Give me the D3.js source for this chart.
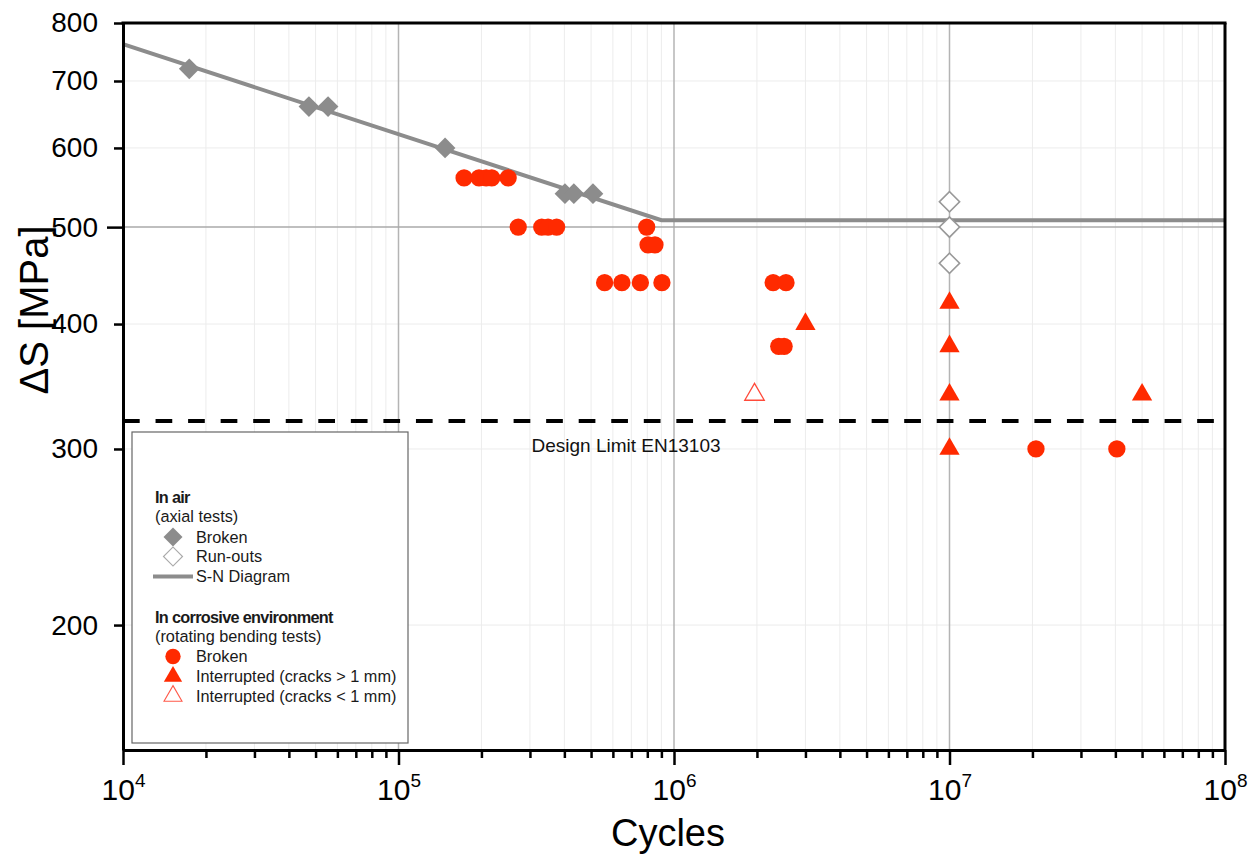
<!DOCTYPE html>
<html>
<head>
<meta charset="utf-8">
<script src="https://cdn.jsdelivr.net/npm/d3@7"></script>
<style>
  html, body { margin: 0; padding: 0; background: #fff; }
  svg { display: block; font-family: "Liberation Sans", Arial, sans-serif; }
</style>
</head>
<body>
<svg id="chart" width="1248" height="858"></svg>
<script>
// S-N fatigue data: stress range [MPa] vs number of cycles

// In air (axial tests)
const airBrokenCycles = [17400, 47300, 55500, 147600, 402000, 433000, 508000];
const airBrokenStress = [720, 660, 660, 600, 540, 540, 540];
const runoutCycles = [1e7, 1e7, 1e7];
const runoutStress = [530, 500, 460];
const snCycles = [1e4, 9e5, 1e8];
const snStress = [762, 508, 508];

// In corrosive environment (rotating bending tests)
const corrBrokenCycles = [173000, 196000, 208000, 218000, 250000,
  272000, 331000, 349000, 375000, 796000,
  805000, 853000,
  560000, 647000, 755000, 904000, 2290000, 2550000,
  2400000, 2510000,
  20600000, 40500000];
const corrBrokenStress = [560, 560, 560, 560, 560,
  500, 500, 500, 500, 500,
  480, 480,
  440, 440, 440, 440, 440, 440,
  380, 380,
  300, 300];
const crackedCycles = [3e6, 1e7, 1e7, 1e7, 1e7, 5e7];
const crackedStress = [400, 420, 380, 340, 300, 340];
const smallCrackCycles = [1.96e6];
const smallCrackStress = [340];

const designLimit = 320;
const designLabel = "Design Limit EN13103";

const xDecades = [1e4, 1e5, 1e6, 1e7, 1e8];
const yTicks = [200, 300, 400, 500, 600, 700, 800];

const RED = "#ff2a00";
const GRAY = "#8c8c8c";

const svg = d3.select("#chart");
const L = 123, R = 1225, T = 23, B = 750;

const x = d3.scaleLog().domain([1e4, 1e8]).range([L, R]);
const y = d3.scaleLog().domain([150, 800]).range([B, T]);

const minorX = [];
for (let d = 1e4; d < 1e8; d *= 10) for (let k = 2; k <= 9; k++) minorX.push(d * k);

// grid
const grid = svg.append("g");
grid.selectAll(".vminor").data(minorX).join("line")
  .attr("x1", d => x(d)).attr("x2", d => x(d)).attr("y1", T).attr("y2", B)
  .attr("stroke", "#ececec").attr("stroke-width", 1);
grid.selectAll(".hminor").data(yTicks.filter(v => v !== 500 && v !== 800)).join("line")
  .attr("x1", L).attr("x2", R).attr("y1", d => y(d)).attr("y2", d => y(d))
  .attr("stroke", "#ececec").attr("stroke-width", 1);
grid.selectAll(".vmajor").data(xDecades.slice(1, 4)).join("line")
  .attr("x1", d => x(d)).attr("x2", d => x(d)).attr("y1", T).attr("y2", B)
  .attr("stroke", "#b4b4b4").attr("stroke-width", 1.5);
grid.append("line")
  .attr("x1", L).attr("x2", R).attr("y1", y(500)).attr("y2", y(500))
  .attr("stroke", "#aaaaaa").attr("stroke-width", 1.5);

// S-N curve
const snLine = d3.line().x(d => x(d[0])).y(d => y(d[1]));
svg.append("path")
  .datum(d3.zip(snCycles, snStress))
  .attr("d", snLine)
  .attr("fill", "none").attr("stroke", GRAY).attr("stroke-width", 4);

// design limit
svg.append("line")
  .attr("x1", L).attr("x2", R).attr("y1", y(designLimit)).attr("y2", y(designLimit))
  .attr("stroke", "#000").attr("stroke-width", 4).attr("stroke-dasharray", "16.7,15.85");
svg.append("text")
  .attr("x", 626).attr("y", y(designLimit) + 31)
  .attr("text-anchor", "middle").attr("font-size", 19).attr("fill", "#111")
  .text(designLabel);

// markers
const sq = d3.symbol().type(d3.symbolSquare);
const tri = d3.symbol().type(d3.symbolTriangle);
const circ = d3.symbol().type(d3.symbolCircle);

const marks = svg.append("g");
marks.selectAll(".runout").data(d3.zip(runoutCycles, runoutStress)).join("path")
  .attr("d", sq.size(205)())
  .attr("transform", d => `translate(${x(d[0])},${y(d[1])}) rotate(45)`)
  .attr("fill", "#fff").attr("stroke", "#999").attr("stroke-width", 1.6);
marks.selectAll(".airb").data(d3.zip(airBrokenCycles, airBrokenStress)).join("path")
  .attr("d", sq.size(215)())
  .attr("transform", d => `translate(${x(d[0])},${y(d[1])}) rotate(45)`)
  .attr("fill", GRAY);
marks.selectAll(".corrb").data(d3.zip(corrBrokenCycles, corrBrokenStress)).join("path")
  .attr("d", circ.size(235)())
  .attr("transform", d => `translate(${x(d[0])},${y(d[1])})`)
  .attr("fill", RED);
marks.selectAll(".crack").data(d3.zip(crackedCycles, crackedStress)).join("path")
  .attr("d", tri.size(178)())
  .attr("transform", d => `translate(${x(d[0])},${y(d[1])})`)
  .attr("fill", RED);
marks.selectAll(".small").data(d3.zip(smallCrackCycles, smallCrackStress)).join("path")
  .attr("d", tri.size(165)())
  .attr("transform", d => `translate(${x(d[0])},${y(d[1])})`)
  .attr("fill", "#fff").attr("stroke", "#ff4a3a").attr("stroke-width", 1.3);

// legend
const lg = svg.append("g");
lg.append("rect").attr("x", 132).attr("y", 432).attr("width", 276).attr("height", 311)
  .attr("fill", "#fff").attr("stroke", "#666").attr("stroke-width", 1.2);
const fs = 16.3;
const tx = 155, lx = 196, mx = 173;
const legendText = [
  { t: "In air", y: 503, bold: true, x: tx },
  { t: "(axial tests)", y: 522, x: tx },
  { t: "Broken", y: 542.5, x: lx },
  { t: "Run-outs", y: 562, x: lx },
  { t: "S-N Diagram", y: 581.5, x: lx },
  { t: "In corrosive environment", y: 622.5, bold: true, x: tx },
  { t: "(rotating bending tests)", y: 642, x: tx },
  { t: "Broken", y: 662, x: lx },
  { t: "Interrupted (cracks > 1 mm)", y: 682, x: lx },
  { t: "Interrupted (cracks < 1 mm)", y: 701.5, x: lx }
];
lg.selectAll("text").data(legendText).join("text")
  .attr("x", d => d.x).attr("y", d => d.y)
  .attr("font-size", fs).attr("fill", "#1a1a1a")
  .attr("font-weight", d => d.bold ? "bold" : "normal")
  .attr("letter-spacing", d => d.bold ? -0.7 : 0)
  .text(d => d.t);
lg.append("path").attr("d", sq.size(180)())
  .attr("transform", `translate(${mx},537) rotate(45)`).attr("fill", GRAY);
lg.append("path").attr("d", sq.size(180)())
  .attr("transform", `translate(${mx},556.5) rotate(45)`)
  .attr("fill", "#fff").attr("stroke", "#aaa").attr("stroke-width", 1.2);
lg.append("line").attr("x1", 153).attr("x2", 193).attr("y1", 576.5).attr("y2", 576.5)
  .attr("stroke", GRAY).attr("stroke-width", 4);
lg.append("path").attr("d", circ.size(185)())
  .attr("transform", `translate(${mx},656.5)`).attr("fill", RED);
lg.append("path").attr("d", tri.size(145)())
  .attr("transform", `translate(${mx},676.5)`).attr("fill", RED);
lg.append("path").attr("d", tri.size(140)())
  .attr("transform", `translate(${mx},696)`)
  .attr("fill", "#fff").attr("stroke", "#ff5a4a").attr("stroke-width", 1.1);

// axes
const xMajorAxis = d3.axisBottom(x).tickValues(xDecades).tickSize(15).tickSizeOuter(0).tickFormat("");
const xMinorAxis = d3.axisBottom(x).tickValues(minorX).tickSize(8).tickSizeOuter(0).tickFormat("");
const gxm = svg.append("g").attr("transform", `translate(0,${B})`).call(xMinorAxis);
const gx = svg.append("g").attr("transform", `translate(0,${B})`).call(xMajorAxis);
[gx, gxm].forEach(g => {
  g.selectAll(".tick line").attr("stroke", "#000").attr("stroke-width", 2.5);
  g.select(".domain").attr("stroke", "#000").attr("stroke-width", 3);
});

// x tick labels as powers of ten
gx.selectAll(".tick").each(function(d) {
  const t = d3.select(this).append("text")
    .attr("y", 50).attr("fill", "#000").attr("text-anchor", "middle")
    .attr("font-size", 30).attr("font-family", "Liberation Sans, Arial, sans-serif");
  t.append("tspan").text("10");
  t.append("tspan").attr("font-size", 19).attr("dy", -13).text(Math.round(Math.log10(d)));
});

const yAxis = d3.axisLeft(y).tickValues(yTicks).tickSize(9).tickSizeOuter(0).tickPadding(15)
  .tickFormat(d3.format("d"));
const gy = svg.append("g").attr("transform", `translate(${L},0)`).call(yAxis);
gy.select(".domain").attr("stroke", "#000").attr("stroke-width", 3);
gy.selectAll(".tick line").attr("stroke", "#000").attr("stroke-width", 2.5)
  .attr("x2", d => d === 500 ? -16 : -9);
gy.selectAll(".tick text").attr("font-size", 28).attr("fill", "#000")
  .attr("font-family", "Liberation Sans, Arial, sans-serif").attr("x", -25);

// frame
svg.append("line").attr("x1", L - 1.5).attr("x2", R + 1.5).attr("y1", T).attr("y2", T)
  .attr("stroke", "#000").attr("stroke-width", 3);
svg.append("line").attr("x1", R).attr("x2", R).attr("y1", T).attr("y2", B)
  .attr("stroke", "#000").attr("stroke-width", 3);

// axis titles
svg.append("text").attr("x", 668).attr("y", 846).attr("text-anchor", "middle")
  .attr("font-size", 38).attr("fill", "#000").text("Cycles");
svg.append("text").attr("transform", "translate(48,310) rotate(-90)")
  .attr("text-anchor", "middle").attr("font-size", 40).attr("fill", "#000")
  .text("ΔS [MPa]");
</script>
</body>
</html>
